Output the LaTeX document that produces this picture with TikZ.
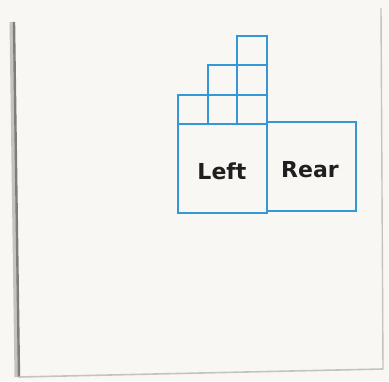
\documentclass[tikz,border=0pt]{standalone}
\usepackage{fontspec}
\newfontfamily\handfont{DejaVu Sans}
\definecolor{paper}{RGB}{248,247,243}
\definecolor{gridblue}{RGB}{52,152,214}
\definecolor{edgedark}{RGB}{125,125,122}
\definecolor{edgelight}{RGB}{195,195,191}
\begin{document}
\begin{tikzpicture}[x=1pt,y=-1pt,
  cell/.style={draw=gridblue,line width=1.3pt},
  lbl/.style={font=\handfont\bfseries\fontsize{22}{22}\selectfont,text=black!88,inner sep=0pt}]
\fill[paper] (0,0) rectangle (389,381);
\useasboundingbox (0,0) rectangle (389,381);
% sticky note edges
\draw[edgelight,line width=5pt] (12,22) -- (17,377);
\draw[edgedark,line width=2.4pt] (14,22) -- (19,377);
\draw[edgelight,line width=1.6pt] (19,377) -- (383,369);
\draw[edgelight,line width=1.4pt] (383,369) -- (381,8);
% blocks
\draw[cell] (178,124) rectangle (267,213);
\draw[cell] (267,122) rectangle (356,211);
\draw[cell] (178,95) rectangle (267,124);
\draw[cell] (208,95) -- (208,124);
\draw[cell] (237,95) -- (237,124);
\draw[cell] (208,65) rectangle (267,95);
\draw[cell] (237,65) -- (237,95);
\draw[cell] (237,36) rectangle (267,65);
% labels
\node[lbl] (left) at (222,171) {Left};
\node[lbl] (rear) at (310,170) {Rear};
\end{tikzpicture}
\end{document}
